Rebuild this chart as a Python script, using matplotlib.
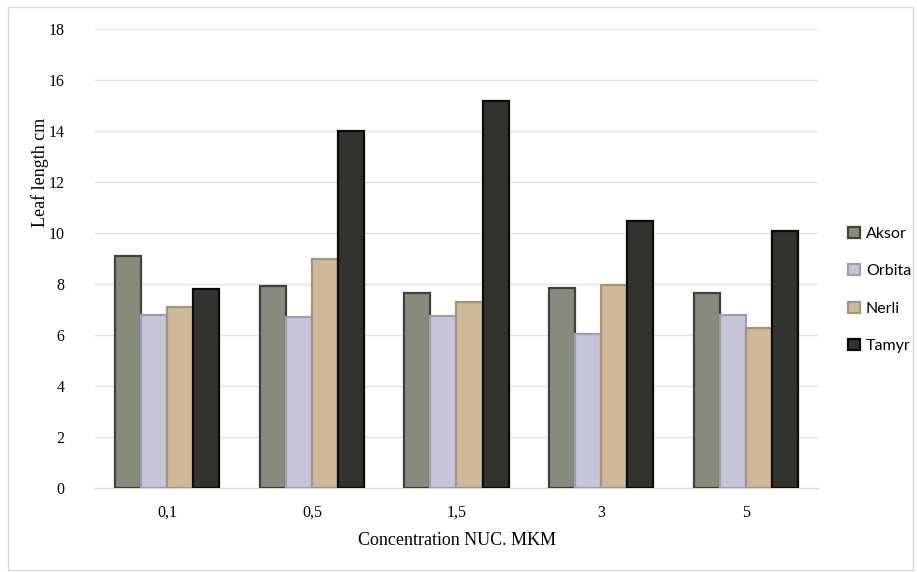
import matplotlib.pyplot as plt
from matplotlib.patches import Rectangle
import numpy as np

concentrations = ["0,1", "0,5", "1,5", "3", "5"]
varieties = ["Aksor", "Orbita", "Nerli", "Tamyr"]
aksor = [9.1, 7.92, 7.65, 7.84, 7.65]
orbita = [6.8, 6.7, 6.75, 6.04, 6.78]
nerli = [7.1, 8.98, 7.3, 7.96, 6.27]
tamyr = [7.8, 14.0, 15.18, 10.47, 10.08]

fills = ["#878b7b", "#c6c6d8", "#cdb89a", "#33332d"]
edges = ["#3f4238", "#9d9db8", "#a89476", "#0a0a08"]

fig = plt.figure(figsize=(9.17, 5.72), dpi=100)
ax = fig.add_axes([95 / 917, 84 / 572, 723 / 917, 459 / 572])

x = np.arange(len(concentrations))
w = 0.18
for i, (vals, fc, ec, name) in enumerate(zip([aksor, orbita, nerli, tamyr], fills, edges, varieties)):
    ax.bar(x + (i - 1.5) * w, vals, width=w, color=fc, edgecolor=ec,
           linewidth=1.6, label=name, zorder=3)

ax.set_xlim(-0.5, len(concentrations) - 0.5)
ax.set_ylim(0, 18)
ax.set_yticks(range(0, 19, 2))
ax.set_xticks(x)
ax.set_xticklabels(concentrations)
ax.grid(axis="y", color="#e6e0e2", linewidth=1, zorder=0)
ax.tick_params(length=0, labelsize=11.5, pad=12)
ax.tick_params(axis="y", pad=22)
for lbl in ax.get_xticklabels() + ax.get_yticklabels():
    lbl.set_fontfamily("Liberation Serif")
for s in ["top", "right", "left"]:
    ax.spines[s].set_visible(False)
ax.spines["bottom"].set_color("#d9d4d6")

ax.set_xlabel("Concentration NUC. MKM", fontfamily="Liberation Serif",
              fontsize=13, labelpad=8)
fig.text(40 / 917, 1 - 172 / 572, "Leaf length cm", rotation=90,
         fontfamily="Liberation Serif", fontsize=13, ha="center", va="center")

leg = fig.legend(loc="center left", bbox_to_anchor=(834 / 917, 1 - 290 / 572),
                 frameon=False, prop={"family": "Lato", "size": 11.5},
                 handlelength=0.7, handleheight=0.7, labelspacing=1.45,
                 handletextpad=0.4)

fig.patches.append(Rectangle((8 / 917, 2 / 572), 905 / 917, 563 / 572,
                             transform=fig.transFigure, fill=False,
                             edgecolor="#d8d8d8", linewidth=1))

fig.savefig("out.png", dpi=100)
